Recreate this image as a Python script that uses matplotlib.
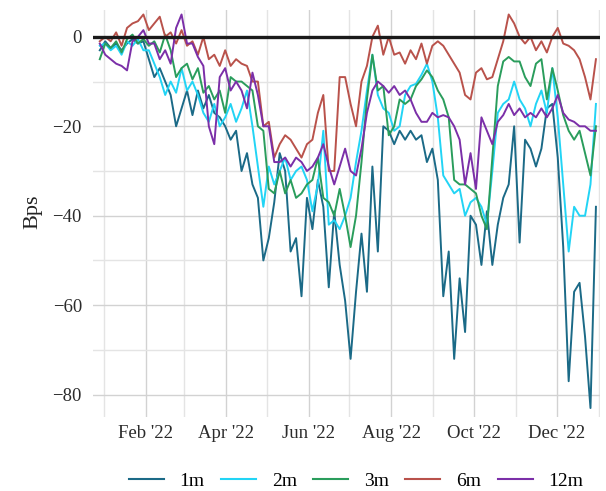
import numpy as np
import pandas as pd
import matplotlib
matplotlib.use("Agg")
import matplotlib.pyplot as plt
import matplotlib.dates as mdates

# Spread versus reference rate, basis points, sampled roughly every four days
start_date = "2021-12-29"
end_date = "2022-12-30"

s_1m = [-3, -1, -2.5, -1.5, -3, -1.5, -0.5, -1.5, -1, -5,
        -9, -7, -10, -13, -20, -16, -12, -17.5, -12, -16,
        -13, -17, -18, -20, -23, -21, -30, -26, -33, -36,
        -50, -45, -37, -26, -30, -48, -45, -58, -36, -43,
        -32, -38, -56, -39, -51, -59, -72, -57, -44, -57,
        -29, -48, -20, -21, -24, -21, -23, -21, -23, -22,
        -28, -25, -32, -58, -48, -72, -54, -66, -40, -42,
        -51, -39, -51, -42, -36, -33, -20, -46, -23, -25,
        -29, -25, -16, -15, -27, -47, -77, -57, -55, -67,
        -83, -38]

s_2m = [-2, -1.5, -3, -2, -4, -1, -2, -0.5, -3, -3,
        -6, -9, -13, -10, -12.5, -7, -12, -10, -13, -17,
        -19, -15, -20, -18, -15, -19, -16, -12, -20, -29,
        -38, -29, -33, -30, -27, -32, -30, -29, -32, -39,
        -33, -21, -42, -41, -43, -40, -36, -28, -21, -12,
        -4, -13, -16, -17, -21, -20, -13, -11, -10.5, -8.5,
        -6, -10, -18, -31, -33, -35, -34, -40, -37, -36,
        -38, -42, -30, -17, -15, -14, -10, -14, -16, -20,
        -15, -12, -17, -7, -18, -33, -48, -38, -40, -40,
        -33, -15]

s_3m = [-5, -1.5, -2.5, -1, -3.5, -0.5, 0.5, -1.5, -0.5, -2,
        -1, -3.5, 0.5, -3, -9, -7, -6, -9.5, -7, -12.5,
        -11, -14, -12, -17, -9, -10, -10, -11, -12, -20,
        -21, -34, -35, -30, -35, -32, -36, -35, -33, -32,
        -27, -36, -37, -40, -34, -40, -47, -40, -28, -14,
        -4, -12, -11, -22, -20, -14, -15, -14, -11, -9.5,
        -7.5, -9, -12, -14, -18, -32, -33, -33, -34, -35,
        -40, -43, -27, -11, -5.5, -4.5, -5.5, -5.5, -9, -11,
        -6, -5, -14, -7, -12, -17.5, -21, -23, -21, -26,
        -31, -20]

s_6m = [-1, 0, -1, 1, -2, 2, 3, 3.5, 5, 1.5,
        3, 4.5, 0, 1, -1.5, 1.5, -2, -1, -4, 0,
        -5, -4, -6.5, -3, -6.5, -5, -6, -6.5, -10, -10,
        -20, -19, -27, -24, -22, -23, -25, -27, -24, -23,
        -17, -13, -30, -30, -9, -9, -15, -20, -10, -6.5,
        0, 2.5, -4, 0, -4, -3.5, -6, -3, -5, -1.5,
        -6, -2, -1, -2, -4, -6, -8, -13, -14, -8,
        -7, -9.5, -9, -5, -1, 5, 3, 0, -1.5, 0,
        -3, -1, -3.5, 0, 2, -1.5, -2, -3, -5, -9,
        -14, -5]

s_12m = [-1.5, -4, -5, -6, -6.5, -7.5, -1, 0, 1.5, -1.5,
         -1.5, -5, -3, -6, 2, 5, -1.5, -1.5, -4.5, -6.5,
         -20, -24, -9, -7, -12, -10, -12, -16, -8, -13,
         -20, -20, -28, -28, -27, -29, -27, -28, -30, -29,
         -27, -24, -29, -33, -29, -25, -30, -31, -25, -17,
         -12, -10, -11, -12.5, -11, -13, -12, -14, -17, -19,
         -19, -17, -18, -17.5, -18, -20, -23, -33, -26, -34,
         -18, -21, -24, -19, -17.5, -15, -17.5, -16, -18, -17,
         -18, -16, -18, -16, -13, -17, -18.5, -19, -20, -20,
         -21, -21]

series_names = ["1m", "2m", "3m", "6m", "12m"]
series_values = [s_1m, s_2m, s_3m, s_6m, s_12m]
series_colors = ["#1b6a87", "#22d4f5", "#2a9d5c", "#b9524b", "#7b2fa8"]

dates = pd.date_range(start_date, end_date, periods=len(s_1m))

serif = ["Liberation Serif", "DejaVu Serif"]
plt.rcParams["font.family"] = serif

fig = plt.figure(figsize=(6.06, 4.91), dpi=100)
ax = fig.add_axes([93 / 606, 1 - 417 / 491, (600 - 93) / 606, (417 - 10) / 491])

for name, vals, col in zip(series_names, series_values, series_colors):
    ax.plot(dates, vals, color=col, lw=1.4, label=name, zorder=3)

ax.axhline(0, color="#1a1a1a", lw=2.4, zorder=4)

ax.set_xlim(pd.Timestamp("2021-12-24"), pd.Timestamp("2023-01-02"))
ax.set_ylim(-85, 6)

# month gridlines; labelled every second month
ax.xaxis.set_major_locator(mdates.MonthLocator(bymonth=[2, 4, 6, 8, 10, 12]))
ax.xaxis.set_minor_locator(mdates.MonthLocator())
ax.xaxis.set_major_formatter(mdates.DateFormatter("%b '%y"))
ax.set_yticks([0, -20, -40, -60, -80])
ax.set_yticks([-10, -30, -50, -70], minor=True)

ax.grid(True, which="major", color="#d2d2d2", lw=1.0, zorder=0)
ax.grid(True, which="minor", color="#e4e4e4", lw=1.0, zorder=0)

for s in ax.spines.values():
    s.set_visible(False)
ax.tick_params(axis="both", which="both", length=0, labelsize=13.5, colors="#2b2b2b")
ax.tick_params(axis="x", pad=6)
ax.tick_params(axis="y", pad=8)

ax.set_ylabel("Bps", fontsize=16, color="#222222")
ax.yaxis.set_label_coords(-0.099, 0.505)

leg = fig.legend(loc="center", bbox_to_anchor=(356 / 606, 1 - 481 / 491), ncol=5,
                 frameon=False, fontsize=14, handlelength=1.8, handletextpad=0.8,
                 columnspacing=0.85)
for line in leg.get_lines():
    line.set_linewidth(1.5)

fig.savefig("out.png", dpi=100)
